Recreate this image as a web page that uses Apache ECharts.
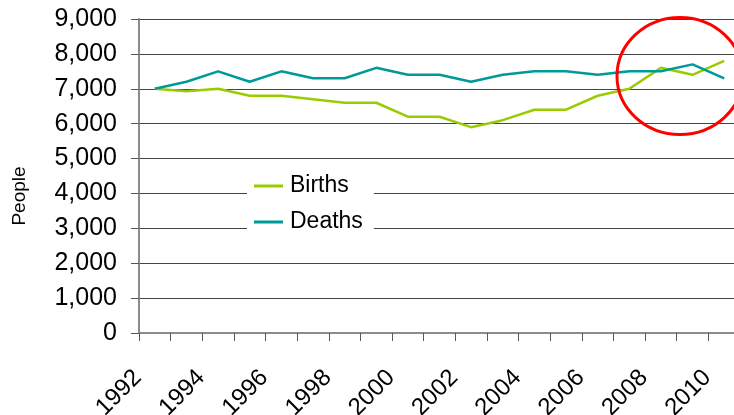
<!DOCTYPE html>
<html>
<head>
<meta charset="utf-8">
<script src="https://cdn.jsdelivr.net/npm/echarts@6/dist/echarts.min.js"></script>
<style>
html,body{margin:0;padding:0;background:#fff;}
#chart{width:734px;height:415px;}
</style>
</head>
<body>
<div id="chart"></div>
<script>
var years = ['1992','1993','1994','1995','1996','1997','1998','1999','2000','2001','2002','2003','2004','2005','2006','2007','2008','2009','2010'];
var births = [7000,6930,7000,6800,6800,6700,6600,6600,6200,6200,5900,6100,6400,6400,6800,7000,7600,7400,7800];
var deaths = [7000,7200,7500,7200,7500,7300,7300,7600,7400,7400,7200,7400,7500,7500,7400,7500,7500,7700,7300];
var yTicks = {min: 0, max: 9000, step: 1000};
var yName = 'People';

var font = '"Liberation Sans", Arial, sans-serif';
var chart = echarts.init(document.getElementById('chart'), null, {renderer: 'canvas'});
chart.setOption({
  animation: false,
  backgroundColor: '#ffffff',
  grid: {left: 139, top: 19, width: 601, bottom: 82, containLabel: false, outerBoundsMode: 'none'},
  legend: {
    orient: 'vertical',
    left: 247,
    top: 169,
    padding: [4, 11, 4, 7],
    backgroundColor: '#ffffff',
    itemWidth: 29,
    itemHeight: 3,
    itemGap: 10,
    icon: 'rect',
    textStyle: {fontFamily: font, fontSize: 23, color: '#000', lineHeight: 26, padding: [0, 0, 0, 2]},
    data: ['Births', 'Deaths']
  },
  xAxis: {
    type: 'category',
    data: years,
    boundaryGap: true,
    axisLine: {show: true, lineStyle: {color: '#8c8c8c', width: 2}},
    axisTick: {show: true, interval: 0, length: 8, lineStyle: {color: '#555', width: 1}},
    axisLabel: {interval: 1, rotate: 45, margin: 24, padding: [0, 24, 0, 0], fontFamily: font, fontSize: 24, color: '#000'},
    splitLine: {show: false}
  },
  yAxis: {
    type: 'value',
    min: yTicks.min,
    max: yTicks.max,
    interval: yTicks.step,
    name: yName,
    nameLocation: 'middle',
    nameRotate: 90,
    nameGap: 110,
    nameTextStyle: {fontFamily: font, fontSize: 19, color: '#000', padding: [0, 40, 0, 0]},
    axisLine: {show: true, lineStyle: {color: '#8c8c8c', width: 2}},
    axisTick: {show: true, length: 8, lineStyle: {color: '#555', width: 1}},
    axisLabel: {margin: 22, fontFamily: font, fontSize: 25, color: '#000',
      formatter: function (v) { return v.toLocaleString('en-US'); }},
    splitLine: {show: true, lineStyle: {color: '#444', width: 1}}
  },
  series: [
    {name: 'Births', type: 'line', data: births, symbol: 'none', itemStyle: {color: '#99cc00'},
     lineStyle: {color: '#99cc00', width: 2.5}},
    {name: 'Deaths', type: 'line', data: deaths, symbol: 'none', itemStyle: {color: '#009999'},
     lineStyle: {color: '#009999', width: 2.5}}
  ],
  graphic: [{
    type: 'ellipse',
    shape: {cx: 680, cy: 76, rx: 63, ry: 58.5},
    style: {fill: 'none', stroke: '#ff0000', lineWidth: 3},
    z: 100
  }]
});
</script>
</body>
</html>
